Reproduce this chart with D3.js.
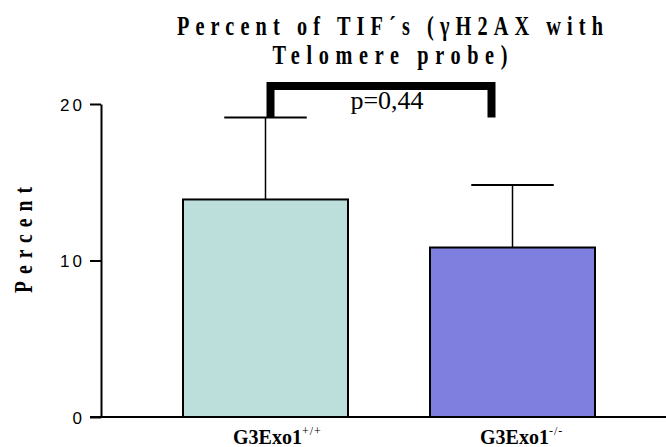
<!DOCTYPE html>
<html>
<head>
<meta charset="utf-8">
<script src="https://cdn.jsdelivr.net/npm/d3@7"></script>
<style>
  body { margin: 0; background: #fff; }
  svg { display: block; }
</style>
</head>
<body>
<figure id="bar" style="margin:0"></figure>
<script>
// data
const categories = ["G3Exo1 +/+", "G3Exo1 -/-"];
const labelMain = ["G3Exo1", "G3Exo1"];
const labelSup = ["+/+", "-/-"];
const means = [13.9, 10.83];
const errTop = [19.14, 14.82];
const colors = ["#bddfdc", "#7f7fdf"];
const yTicks = [0, 10, 20];
const titleLines = ["Percent of TIF´s (γH2AX with", "Telomere probe)"];
const pText = "p=0,44";
const bracketLevel = 21.15; // top of the significance bracket, in percent units

const width = 666, height = 447;
const serif = "'Liberation Serif', 'Times New Roman', serif";
const squeeze = 0.75; // the bold serif text is horizontally condensed

const svg = d3.select("figure#bar")
  .append("svg")
  .attr("width", width)
  .attr("height", height);

const y = d3.scaleLinear().domain([0, 20]).range([417, 104]);
const x = d3.scaleBand()
  .domain(categories)
  .range([101, 677])
  .paddingInner(0.332)
  .paddingOuter(0.332);

// title
const titleLen = [426, 235];
const titleY = [35, 64];
titleLines.forEach((t, i) => {
  svg.append("g")
    .attr("transform", `translate(390,${titleY[i]}) scale(${squeeze},1)`)
    .append("text")
    .attr("text-anchor", "middle")
    .attr("textLength", titleLen[i] / squeeze)
    .attr("lengthAdjust", "spacing")
    .style("font-family", serif)
    .style("font-weight", "bold")
    .style("font-size", "27px")
    .text(t);
});

// y axis label
svg.append("g")
  .attr("transform", `translate(32,240) rotate(-90) scale(${squeeze},1)`)
  .append("text")
  .attr("text-anchor", "middle")
  .attr("textLength", 106 / squeeze).attr("lengthAdjust", "spacing")
  .style("font-family", serif)
  .style("font-weight", "bold")
  .style("font-size", "26px")
  .text("Percent");

// bars
svg.selectAll("rect.bar")
  .data(categories)
  .enter()
  .append("rect")
  .attr("class", "bar")
  .attr("x", d => x(d))
  .attr("y", (d, i) => y(means[i]))
  .attr("width", x.bandwidth())
  .attr("height", (d, i) => y(0) - y(means[i]))
  .attr("fill", (d, i) => colors[i])
  .attr("stroke", "#000")
  .attr("stroke-width", 2);

// error bars
const cx = d => x(d) + x.bandwidth() / 2;
const capHalf = x.bandwidth() / 4;
const err = svg.append("g").attr("stroke", "#000");
err.selectAll("line.v").data(categories).enter().append("line")
  .attr("x1", cx).attr("x2", cx)
  .attr("y1", (d, i) => y(means[i]))
  .attr("y2", (d, i) => y(errTop[i]))
  .attr("stroke-width", 1.5);
err.selectAll("line.cap").data(categories).enter().append("line")
  .attr("x1", d => cx(d) - capHalf).attr("x2", d => cx(d) + capHalf)
  .attr("y1", (d, i) => y(errTop[i]))
  .attr("y2", (d, i) => y(errTop[i]))
  .attr("stroke-width", 2);

// y axis
const yAxis = svg.append("g")
  .attr("transform", "translate(101,0)")
  .call(d3.axisLeft(y).tickValues(yTicks).tickSize(11).tickSizeOuter(0).tickPadding(0));
yAxis.select(".domain").attr("stroke-width", 2);
yAxis.selectAll(".tick line").attr("stroke-width", 2);
yAxis.selectAll(".tick text")
  .attr("x", -16)
  .attr("dy", "0.36em")
  .style("font-family", "'Liberation Sans', Arial, sans-serif")
  .style("font-size", "17px")
  .style("letter-spacing", "3px")
  .attr("fill", "#000");

// x baseline
svg.append("line")
  .attr("x1", 90).attr("x2", width)
  .attr("y1", y(0)).attr("y2", y(0))
  .attr("stroke", "#000")
  .attr("stroke-width", 2);

// x labels
const xl = svg.selectAll("g.xl").data(categories).enter().append("g")
  .attr("class", "xl")
  .attr("transform", d => `translate(${cx(d) + 2},444)`);
xl.append("text")
  .attr("text-anchor", "middle")
  .style("font-family", serif)
  .style("font-weight", "bold")
  .style("font-size", "20px")
  .text((d, i) => labelMain[i]);
xl.append("text")
  .attr("x", 34.5).attr("y", -9)
  .style("font-family", serif)
  .style("font-size", "12px")
  .style("letter-spacing", "1px")
  .text((d, i) => labelSup[i]);

// significance bracket
const bx1 = cx(categories[0]) + 5;
const bx2 = cx(categories[1]) - 21;
const by = y(bracketLevel);
const bBottom = y(errTop[0]);
svg.append("path")
  .attr("d", `M${bx1},${bBottom} V${by} H${bx2} V${bBottom}`)
  .attr("fill", "none")
  .attr("stroke", "#000")
  .attr("stroke-width", 8)
  .attr("stroke-linejoin", "miter");

svg.append("text")
  .attr("x", (bx1 + bx2) / 2 + 6)
  .attr("y", 109)
  .attr("text-anchor", "middle")
  .style("font-family", serif)
  .style("font-size", "26px")
  .text(pText);
</script>
</body>
</html>
